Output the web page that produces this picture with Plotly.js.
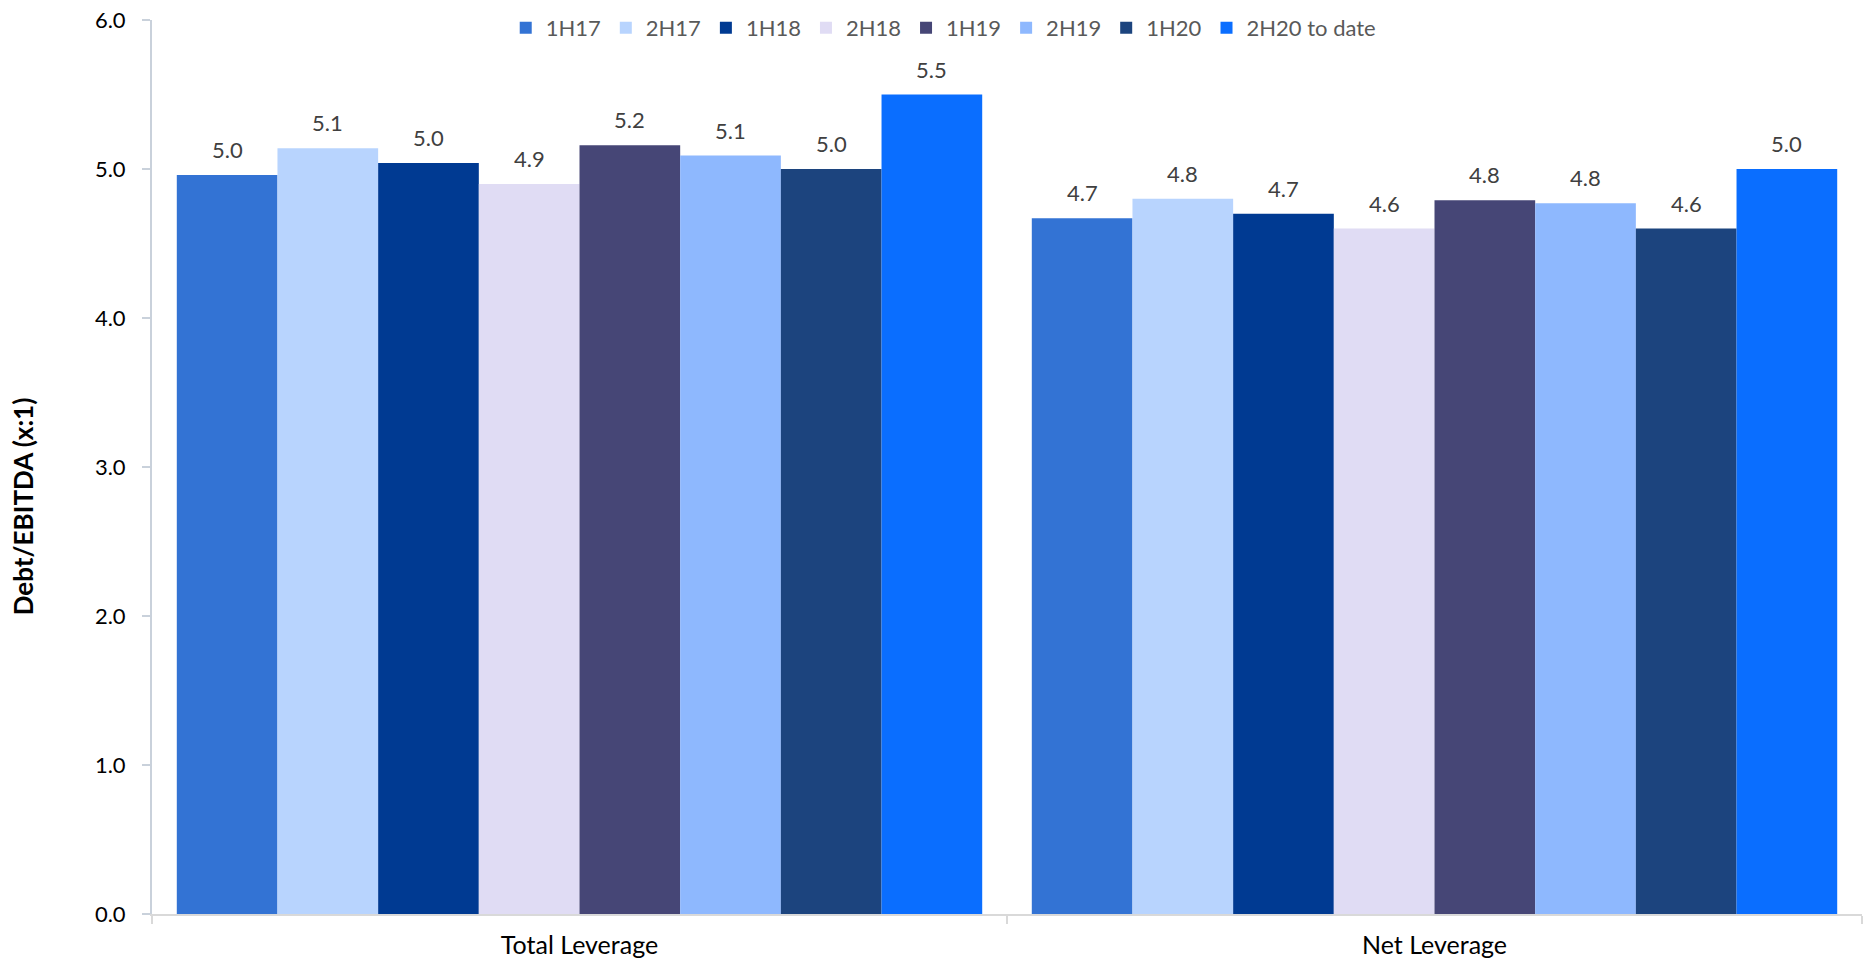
<!DOCTYPE html>
<html>
<head>
<meta charset="utf-8">
<script src="https://cdn.plot.ly/plotly-3.0.1.min.js"></script>
<style>html,body{margin:0;padding:0;background:#fff;}#chart{width:1868px;height:961px;}</style>
</head>
<body>
<div id="chart"></div>
<script>
// Data
const categories = ['Total Leverage', 'Net Leverage'];
const seriesNames = ['1H17', '2H17', '1H18', '2H18', '1H19', '2H19', '1H20', '2H20 to date'];
const s1H17 = [4.96, 4.67];
const s2H17 = [5.14, 4.80];
const s1H18 = [5.04, 4.70];
const s2H18 = [4.90, 4.60];
const s1H19 = [5.16, 4.79];
const s2H19 = [5.09, 4.77];
const s1H20 = [5.00, 4.60];
const s2H20 = [5.50, 5.00];
const seriesValues = [s1H17, s2H17, s1H18, s2H18, s1H19, s2H19, s1H20, s2H20];
const colors = ['#3373D4', '#B8D4FE', '#003A92', '#E0DCF4', '#464676', '#8EB8FE', '#1C447E', '#0A6EFF'];
const yTickVals = [0, 1, 2, 3, 4, 5, 6];
const yTitle = 'Debt/EBITDA (x:1)';

const FONT = 'Lato, "Open Sans", sans-serif';
const bargap = 0.058;
const groupW = 1 - bargap;
const n = seriesNames.length;

const traces = seriesNames.map((name, i) => ({
  type: 'bar',
  name: name,
  x: categories,
  y: seriesValues[i],
  marker: {color: colors[i]},
  hoverinfo: 'skip'
}));

const annotations = [];
seriesValues.forEach((vals, i) => {
  vals.forEach((v, j) => {
    annotations.push({
      xref: 'x', yref: 'y',
      x: j - groupW / 2 + (i + 0.5) * groupW / n,
      y: v,
      text: v.toFixed(1),
      showarrow: false,
      yanchor: 'bottom',
      xanchor: 'center',
      yshift: 10,
      font: {family: FONT, size: 22, color: '#404040'}
    });
  });
});
annotations.push({
  xref: 'paper', yref: 'paper',
  x: -0.0755, y: 0.456,
  xanchor: 'center', yanchor: 'middle',
  text: '<b>' + yTitle + '</b>',
  textangle: -90,
  showarrow: false,
  font: {family: FONT, size: 26, color: '#000000'}
});

const layout = {
  width: 1868, height: 961,
  margin: {l: 152, r: 6, t: 20, b: 47},
  paper_bgcolor: '#ffffff',
  plot_bgcolor: '#ffffff',
  barmode: 'group',
  bargap: bargap,
  bargroupgap: 0,
  showlegend: true,
  legend: {
    orientation: 'h',
    x: 0.463, xanchor: 'center',
    y: 0.991, yanchor: 'middle',
    font: {family: FONT, size: 22, color: '#595959'},
    bgcolor: 'rgba(0,0,0,0)',
    traceorder: 'normal'
  },
  xaxis: {
    type: 'category',
    showline: true, linecolor: '#d9d9d9', linewidth: 2,
    ticks: 'outside', tickson: 'boundaries', ticklen: 8, tickcolor: '#d9d9d9', tickwidth: 2,
    showgrid: false, zeroline: false,
    tickfont: {family: FONT, size: 25, color: '#000000'},
    ticklabelstandoff: 8
  },
  yaxis: {
    range: [0, 6],
    tickvals: yTickVals,
    tickformat: '.1f',
    showline: true, linecolor: '#c9d1db', linewidth: 2,
    ticks: 'outside', ticklen: 8, tickcolor: '#c9d1db', tickwidth: 2,
    showgrid: false, zeroline: false,
    tickfont: {family: FONT, size: 22, color: '#000000'},
    ticklabelstandoff: 12
  },
  annotations: annotations
};

Plotly.newPlot('chart', traces, layout, {displayModeBar: false, staticPlot: true});
</script>
</body>
</html>
